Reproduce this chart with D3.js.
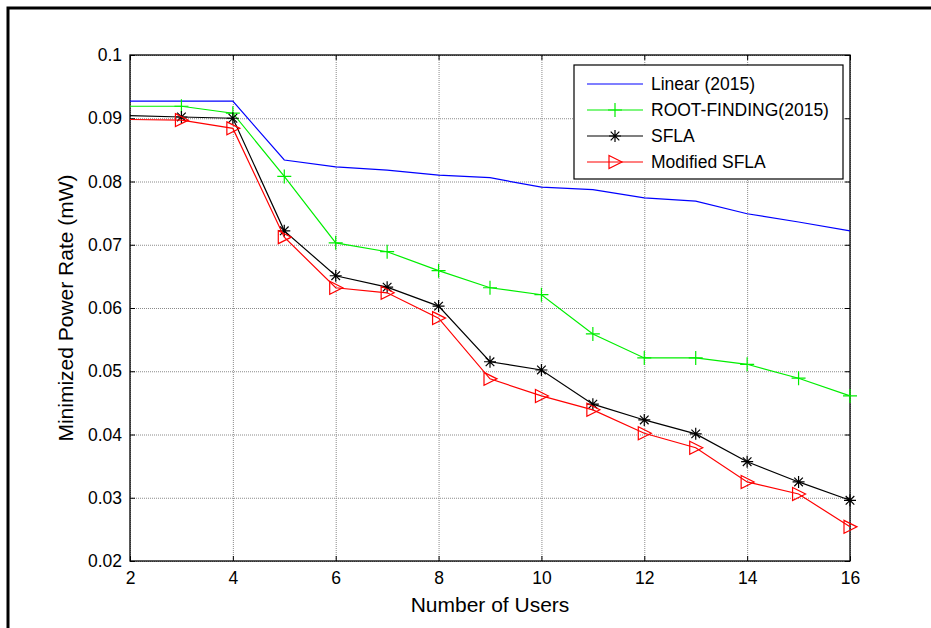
<!DOCTYPE html>
<html>
<head>
<meta charset="utf-8">
<script src="https://cdn.jsdelivr.net/npm/d3@7"></script>
<style>
  html, body { margin: 0; padding: 0; background: #fff; }
  svg { display: block; font-family: "Liberation Sans", Arial, sans-serif; }
</style>
</head>
<body>
<svg id="chart" width="931" height="628"></svg>
<script>
// ---- data ----
const users = [2, 3, 4, 5, 6, 7, 8, 9, 10, 11, 12, 13, 14, 15, 16];
const linear2015 = [0.0927, 0.0927, 0.0927, 0.0834, 0.0823, 0.0818, 0.0810, 0.0806, 0.0791, 0.0787, 0.0774, 0.0769, 0.0749, 0.0736, 0.0722];
const rootFinding2015 = [0.0919, 0.0919, 0.0908, 0.0808, 0.0703, 0.0689, 0.0659, 0.0632, 0.0621, 0.0559, 0.0521, 0.0521, 0.0511, 0.0489, 0.0461];
const sfla = [0.0904, 0.0902, 0.0900, 0.0722, 0.0651, 0.0633, 0.0603, 0.0515, 0.0502, 0.0448, 0.0423, 0.0401, 0.0357, 0.0325, 0.0296];
const modifiedSfla = [0.0898, 0.0897, 0.0884, 0.0712, 0.0632, 0.0624, 0.0584, 0.0488, 0.0461, 0.0439, 0.0402, 0.0379, 0.0325, 0.0306, 0.0254];
const xTicks = [2, 4, 6, 8, 10, 12, 14, 16];
const yTicks = [0.02, 0.03, 0.04, 0.05, 0.06, 0.07, 0.08, 0.09, 0.1];
const seriesNames = ["Linear (2015)", "ROOT-FINDING(2015)", "SFLA", "Modified SFLA"];
const xLabel = "Number of Users";
const yLabel = "Minimized Power Rate (mW)";

// ---- layout ----
const svg = d3.select("#chart");
const L = 130, T = 55, R = 850, B = 561;
const x = d3.scaleLinear().domain([2, 16]).range([L, R]);
const y = d3.scaleLinear().domain([0.02, 0.1]).range([B, T]);

// outer frame
svg.append("rect").attr("x", 8).attr("y", 8).attr("width", 960).attr("height", 700)
  .attr("fill", "none").attr("stroke", "#000").attr("stroke-width", 3);

// grid
const gridStyle = g => g.selectAll("line").attr("stroke", "#8a8a8a").attr("stroke-width", 1).attr("stroke-dasharray", "1,1");
svg.append("g").attr("transform", `translate(0,${B})`)
  .call(d3.axisBottom(x).tickValues(xTicks).tickSize(-(B - T)).tickFormat(""))
  .call(g => g.select(".domain").remove()).call(gridStyle);
svg.append("g").attr("transform", `translate(${L},0)`)
  .call(d3.axisLeft(y).tickValues(yTicks).tickSize(-(R - L)).tickFormat(""))
  .call(g => g.select(".domain").remove()).call(gridStyle);

// axes with inward ticks
const fmtY = d => (d === 0.1 ? "0.1" : d3.format(".2f")(d));
const axStyle = g => {
  g.select(".domain").remove();
  g.selectAll("line").attr("stroke", "#000").attr("stroke-width", 1);
  g.selectAll("text").attr("fill", "#000").attr("font-size", "17.5px").attr("font-family", "Liberation Sans, Arial, sans-serif");
};
svg.append("g").attr("transform", `translate(0,${B})`)
  .call(d3.axisBottom(x).tickValues(xTicks).tickSize(-5).tickPadding(11)).call(axStyle);
svg.append("g").attr("transform", `translate(0,${T})`)
  .call(d3.axisTop(x).tickValues(xTicks).tickSize(-5).tickFormat("")).call(axStyle);
svg.append("g").attr("transform", `translate(${L},0)`)
  .call(d3.axisLeft(y).tickValues(yTicks).tickSize(-5).tickPadding(8).tickFormat(fmtY)).call(axStyle);
svg.append("g").attr("transform", `translate(${R},0)`)
  .call(d3.axisRight(y).tickValues(yTicks).tickSize(-5).tickFormat("")).call(axStyle);

// box
svg.append("rect").attr("x", L).attr("y", T).attr("width", R - L).attr("height", B - T)
  .attr("fill", "none").attr("stroke", "#000").attr("stroke-width", 1.3);

// markers
function drawPlus(g, cx, cy, color) {
  g.append("path").attr("d", `M${cx - 7},${cy}H${cx + 7}M${cx},${cy - 7}V${cy + 7}`)
    .attr("stroke", color).attr("stroke-width", 1.2).attr("fill", "none");
}
function drawStar(g, cx, cy, color) {
  const r = 6, d = 4.3;
  g.append("path").attr("d",
    `M${cx - r},${cy}H${cx + r}M${cx},${cy - r}V${cy + r}M${cx - d},${cy - d}L${cx + d},${cy + d}M${cx - d},${cy + d}L${cx + d},${cy - d}`)
    .attr("stroke", color).attr("stroke-width", 1.2).attr("fill", "none");
}
function drawTri(g, cx, cy, color) {
  g.append("path").attr("d", `M${cx - 6},${cy - 6.5}L${cx + 7},${cy}L${cx - 6},${cy + 6.5}Z`)
    .attr("stroke", color).attr("stroke-width", 1.2).attr("fill", "none");
}

const series = [
  { name: seriesNames[0], values: linear2015, color: "#0000ff", marker: null },
  { name: seriesNames[1], values: rootFinding2015, color: "#00ee00", marker: drawPlus },
  { name: seriesNames[2], values: sfla, color: "#000000", marker: drawStar },
  { name: seriesNames[3], values: modifiedSfla, color: "#ff0000", marker: drawTri }
];

const line = d3.line().x(d => x(d[0])).y(d => y(d[1]));
const plot = svg.append("g");
series.forEach(s => {
  const pts = users.map((u, i) => [u, s.values[i]]);
  plot.append("path").datum(pts).attr("d", line)
    .attr("fill", "none").attr("stroke", s.color).attr("stroke-width", 1.2);
  if (s.marker) {
    const mg = plot.append("g");
    pts.filter(p => p[0] >= 3).forEach(p => s.marker(mg, x(p[0]), y(p[1]), s.color));
  }
});

// axis labels
svg.append("text").attr("x", (L + R) / 2).attr("y", 612).attr("text-anchor", "middle")
  .attr("font-size", "21px").attr("fill", "#000").text(xLabel);
svg.append("text").attr("transform", `translate(73,${(T + B) / 2}) rotate(-90)`)
  .attr("text-anchor", "middle").attr("font-size", "21px").attr("fill", "#000").text(yLabel);

// legend
const lg = svg.append("g");
lg.append("rect").attr("x", 574).attr("y", 65).attr("width", 269).attr("height", 114)
  .attr("fill", "#fff").attr("stroke", "#000").attr("stroke-width", 1.2);
const rowY = [84, 110, 136, 162];
series.forEach((s, i) => {
  const yy = rowY[i];
  lg.append("line").attr("x1", 587).attr("x2", 643).attr("y1", yy).attr("y2", yy)
    .attr("stroke", s.color).attr("stroke-width", 1.2);
  if (s.marker) s.marker(lg, 615, yy, s.color);
  lg.append("text").attr("x", 651).attr("y", yy).attr("dy", "0.36em")
    .attr("font-size", "17.5px").attr("fill", "#000").text(s.name);
});
</script>
</body>
</html>
